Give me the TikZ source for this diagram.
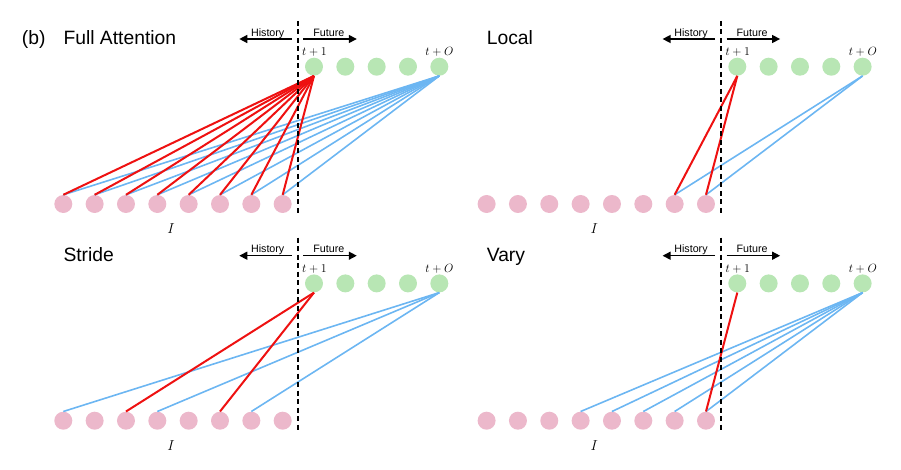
\documentclass[tikz,border=0pt]{standalone}
\usepackage{fontspec}
\setmainfont{Liberation Sans}
\usetikzlibrary{arrows.meta}
\definecolor{pinkc}{HTML}{ECB8CB}
\definecolor{greenc}{HTML}{B8E6B4}
\definecolor{redc}{HTML}{EE1111}
\definecolor{bluec}{HTML}{6CB6F2}
\tikzset{
  inp/.style={circle, fill=pinkc, minimum size=18pt, inner sep=0pt},
  outp/.style={circle, fill=greenc, minimum size=18pt, inner sep=0pt},
  redl/.style={draw=redc, line width=2pt},
  bluel/.style={draw=bluec, line width=1.6pt},
  divider/.style={draw=black, line width=1.8pt, dash pattern=on 5pt off 3.5pt},
  dirarrow/.style={-{Triangle[length=8pt,width=8pt]}, line width=1.4pt},
  smalltext/.style={font=\fontsize{10.7}{12}\selectfont, inner sep=0pt, anchor=base},
  steplabel/.style={font=\fontsize{11.5}{13}\selectfont, inner sep=0pt, anchor=base},
  inlabel/.style={font=\fontsize{15}{17}\selectfont, inner sep=0pt, anchor=base},
  paneltitle/.style={font=\fontsize{19.3}{22}\selectfont, inner sep=0pt, anchor=base west},
}
% #1 name, #2 dx, #3 dy, #4 title, #5 red targets, #6 blue targets
\newcommand\makepanel[6]{%
  \begin{scope}[shift={(#2,#3)}]
    \foreach \i in {1,...,8} \node[inp] (#1p\i) at ({63.3+31.34*(\i-1)}, 204) {};
    \foreach \j in {1,...,5} \node[outp] (#1g\j) at ({314+31.33*(\j-1)}, 66.7) {};
    \node[paneltitle] (#1title) at (63.3, 45) {#4};
    \node[steplabel] (#1first) at (314.5, 56) {$t+1$};
    \node[steplabel] (#1last) at (439.5, 56) {$t+O$};
    \node[inlabel] (#1I) at (171, 233.3) {$I$};
    \foreach \k in {#6} \draw[bluel] (#1g5.south) -- (#1p\k.north);
    \foreach \k in {#5} \draw[redl] (#1g1.south) -- (#1p\k.north);
    \coordinate (#1dt) at (297.7, 21);
    \coordinate (#1db) at (297.7, 213);
    \draw[divider] (#1dt) -- (#1db);
    \coordinate (#1hs) at (291.7, 39);
    \coordinate (#1he) at (239.3, 39);
    \coordinate (#1fs) at (303.2, 39);
    \coordinate (#1fe) at (356.8, 39);
    \draw[dirarrow] (#1hs) -- (#1he);
    \draw[dirarrow] (#1fs) -- (#1fe);
    \node[smalltext] (#1hist) at (267.7, 36.2) {History};
    \node[smalltext] (#1fut) at (328.8, 36.2) {Future};
  \end{scope}}
\begin{document}
\begin{tikzpicture}[x=1pt, y=-1pt]
  \useasboundingbox (0,0) rectangle (901,470);
  \node[paneltitle] (blabel) at (21.7, 45) {(b)};
  \makepanel{fa}{0}{0}{Full Attention}{1,2,3,4,5,6,7,8}{1,2,3,4,5,6,7,8}
  \makepanel{lo}{423.3}{0}{Local}{7,8}{7,8}
  \makepanel{st}{0}{216.7}{Stride}{3,6}{1,4,7}
  \makepanel{va}{423.3}{216.7}{Vary}{8}{4,5,6,7,8}
\end{tikzpicture}
\end{document}
